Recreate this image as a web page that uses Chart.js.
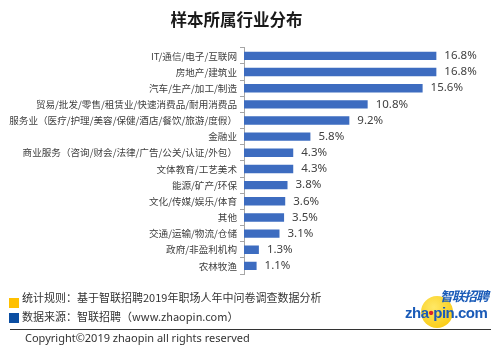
<!DOCTYPE html>
<html><head><meta charset="utf-8">
<script src="https://cdn.jsdelivr.net/npm/chart.js@4/dist/chart.umd.min.js"></script>
<style>
html,body{margin:0;padding:0;background:#fff;}
#wrap{position:relative;width:500px;height:355px;overflow:hidden;font-family:"Noto Sans CJK SC","Noto Sans",sans-serif;}
canvas{position:absolute;left:0;top:0;}
.t{position:absolute;white-space:nowrap;color:#333;font-size:11px;line-height:14px;}
.sq{position:absolute;width:10px;height:10px;}
</style></head>
<body><div id="wrap">
<canvas id="c" width="500" height="355"></canvas>
<div class="sq" style="left:9px;top:298px;background:#FFC000"></div>
<div class="t" style="left:22px;top:290px">统计规则：基于智联招聘2019年职场人年中问卷调查数据分析</div>
<div class="sq" style="left:9px;top:313px;background:#0B4EA2"></div>
<div class="t" style="left:22px;top:309px">数据来源：智联招聘（www.zhaopin.com）</div>
<div style="position:absolute;left:10px;top:329px;width:481px;height:1px;background:#333"></div>
<div class="t" style="left:25px;top:331px;font-family:'Noto Sans',sans-serif;">Copyright©2019 zhaopin all rights reserved</div>
<div style="position:absolute;left:421px;top:296px;width:32px;height:32px;border-radius:50%;background:radial-gradient(circle at 40% 35%,#FFE866,#F8C400)"></div>
<div class="t" style="left:440px;top:289px;font-size:13px;font-weight:bold;font-style:italic;color:#1A5BB8;letter-spacing:-1px">智联招聘</div>
<div class="t" style="left:405px;top:304px;font-family:'Liberation Sans',sans-serif;font-size:15px;line-height:17px;font-weight:bold;color:#1A5BB8;letter-spacing:-0.5px">zha<span style="color:#D9232D">•</span>pin.com</div>
</div>
<script>
const categories = ["IT/通信/电子/互联网","房地产/建筑业","汽车/生产/加工/制造","贸易/批发/零售/租赁业/快速消费品/耐用消费品","服务业（医疗/护理/美容/保健/酒店/餐饮/旅游/度假）","金融业","商业服务（咨询/财会/法律/广告/公关/认证/外包）","文体教育/工艺美术","能源/矿产/环保","文化/传媒/娱乐/体育","其他","交通/运输/物流/仓储","政府/非盈利机构","农林牧渔"];
const values = [16.8,16.8,15.6,10.8,9.2,5.8,4.3,4.3,3.8,3.6,3.5,3.1,1.3,1.1];
const titleText = "样本所属行业分布";

const labelPlugin = {
  id:'vals',
  afterDatasetsDraw(chart){
    const ctx = chart.ctx;
    const meta = chart.getDatasetMeta(0);
    ctx.save();
    ctx.font = '11.5px "Noto Sans", sans-serif';
    ctx.fillStyle = '#404040';
    ctx.textBaseline = 'middle';
    ctx.textAlign = 'left';
    meta.data.forEach((bar,i)=>{
      ctx.fillText(values[i].toFixed(1)+'%', bar.x+8, bar.y);
    });
    ctx.restore();
  }
};

new Chart(document.getElementById('c'),{
  type:'bar',
  data:{labels:categories,datasets:[{data:values,backgroundColor:'#3D6CC0',barPercentage:0.52,categoryPercentage:1}]},
  options:{
    indexAxis:'y',
    responsive:false,
    animation:false,
    layout:{padding:{left:0,right:27,top:0,bottom:81}},
    plugins:{
      legend:{display:false},
      tooltip:{enabled:false},
      title:{display:true,text:titleText,color:'#1a1a1a',font:{family:'"Noto Sans CJK SC"',size:16.5,weight:'bold'},padding:{top:10,bottom:18}}
    },
    scales:{
      x:{display:false,min:0,max:20},
      y:{
        afterFit(s){s.width=244;},
        border:{color:'#A6A6A6'},
        grid:{drawOnChartArea:false,tickLength:4,color:'#A6A6A6'},
        ticks:{color:'#404040',padding:3,font:{family:'"Noto Sans CJK SC"',size:9.6}}
      }
    }
  },
  plugins:[labelPlugin]
});
</script>
</body></html>
